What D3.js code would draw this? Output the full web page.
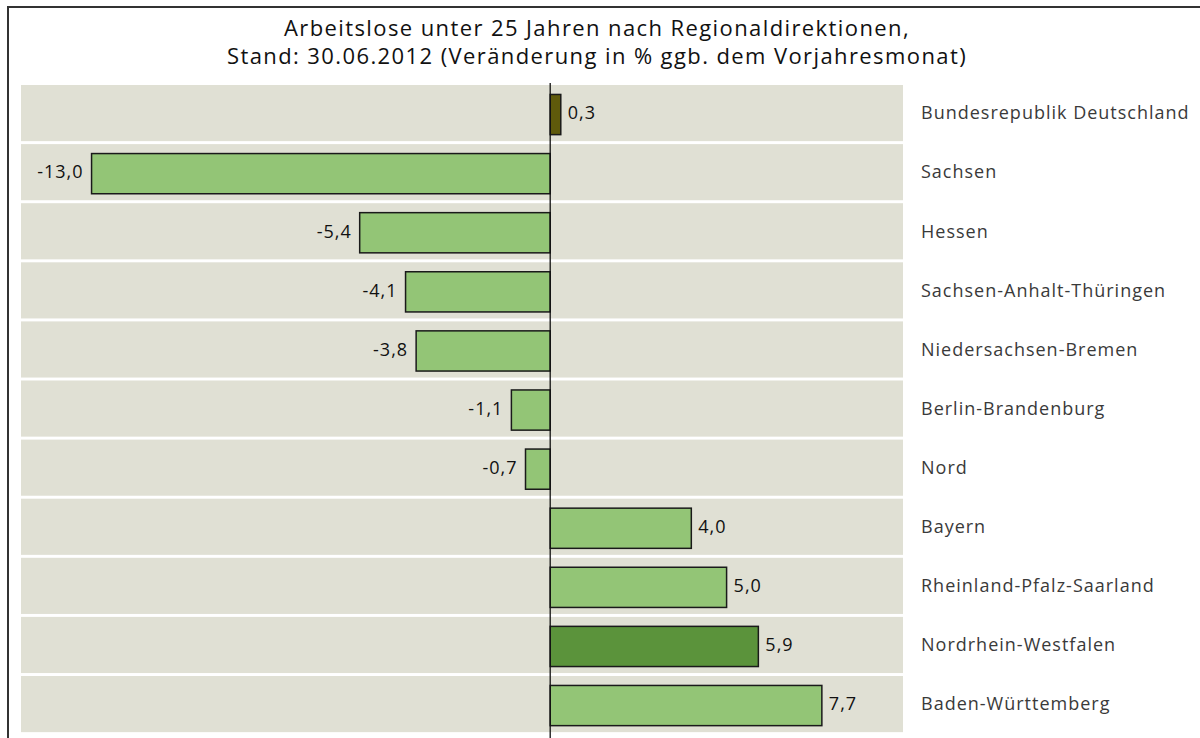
<!DOCTYPE html>
<html><head><meta charset="utf-8">
<script src="https://cdn.jsdelivr.net/npm/d3@7"></script>
<style>body{margin:0;background:#fff}svg{display:block}</style>
</head><body>
<svg id="c" width="1200" height="738"></svg>
<script>
const titleLines = ["Arbeitslose unter 25 Jahren nach Regionaldirektionen,", "Stand: 30.06.2012 (Veränderung in % ggb. dem Vorjahresmonat)"];
const categories = ["Bundesrepublik Deutschland","Sachsen","Hessen","Sachsen-Anhalt-Thüringen","Niedersachsen-Bremen","Berlin-Brandenburg","Nord","Bayern","Rheinland-Pfalz-Saarland","Nordrhein-Westfalen","Baden-Württemberg"];
const values = [0.3,-13.0,-5.4,-4.1,-3.8,-1.1,-0.7,4.0,5.0,5.9,7.7];
const barColors = ["#5f5a0b","#93c576","#93c576","#93c576","#93c576","#93c576","#93c576","#93c576","#93c576","#5b933b","#93c576"];
const xDomain = [-15, 10];

const svg = d3.select("#c");
const font = "'Open Sans', sans-serif";

// frame
svg.append("rect").attr("x",8).attr("y",7).attr("width",1220).attr("height",760)
  .attr("fill","none").attr("stroke","#333").attr("stroke-width",2);

// title
svg.append("g").selectAll("text").data(titleLines).join("text")
  .attr("x",597).attr("y",(d,i)=>36+i*28).attr("text-anchor","middle")
  .attr("font-family",font).attr("font-size",22).attr("letter-spacing",1.4)
  .attr("fill","#111").text(d=>d);

const x = d3.scaleLinear().domain(xDomain).range([21,903]);
const step = 59.1;
const y = d3.scaleBand().domain(categories).range([85,85+step*10.95]).paddingInner(0.05).paddingOuter(0);
const yb = d3.scaleBand().domain(categories).range([85,85+step*11]).paddingInner(0.32).paddingOuter(0.16);

svg.append("g").selectAll("rect").data(categories).join("rect")
  .attr("x",x(xDomain[0])).attr("width",x(xDomain[1])-x(xDomain[0]))
  .attr("y",d=>y(d)).attr("height",y.bandwidth()).attr("fill","#e0e0d4");

svg.append("g").selectAll("rect").data(values).join("rect")
  .attr("x",d=>x(Math.min(0,d))).attr("width",d=>Math.abs(x(d)-x(0)))
  .attr("y",(d,i)=>yb(categories[i])).attr("height",yb.bandwidth())
  .attr("fill",(d,i)=>barColors[i]).attr("stroke","#1a1a1a").attr("stroke-width",1.5);

svg.append("line").attr("x1",x(0)).attr("x2",x(0)).attr("y1",83).attr("y2",738)
  .attr("stroke","#111").attr("stroke-width",1.3);

const fmt = v => d3.format(".1f")(v).replace(".",",").replace("−","-");
svg.append("g").selectAll("text").data(values).join("text")
  .attr("x",d=>d<0? x(d)-8 : x(d)+7)
  .attr("y",(d,i)=>y(categories[i])+y.bandwidth()/2)
  .attr("dy","0.35em").attr("text-anchor",d=>d<0?"end":"start")
  .attr("font-family",font).attr("font-size",18).attr("letter-spacing",1)
  .attr("fill","#111").text(fmt);

svg.append("g").selectAll("text").data(categories).join("text")
  .attr("x",921).attr("y",d=>y(d)+y.bandwidth()/2).attr("dy","0.35em")
  .attr("font-family",font).attr("font-size",18).attr("letter-spacing",1)
  .attr("fill","#3a3a3a").text(d=>d);
</script>
</body></html>
